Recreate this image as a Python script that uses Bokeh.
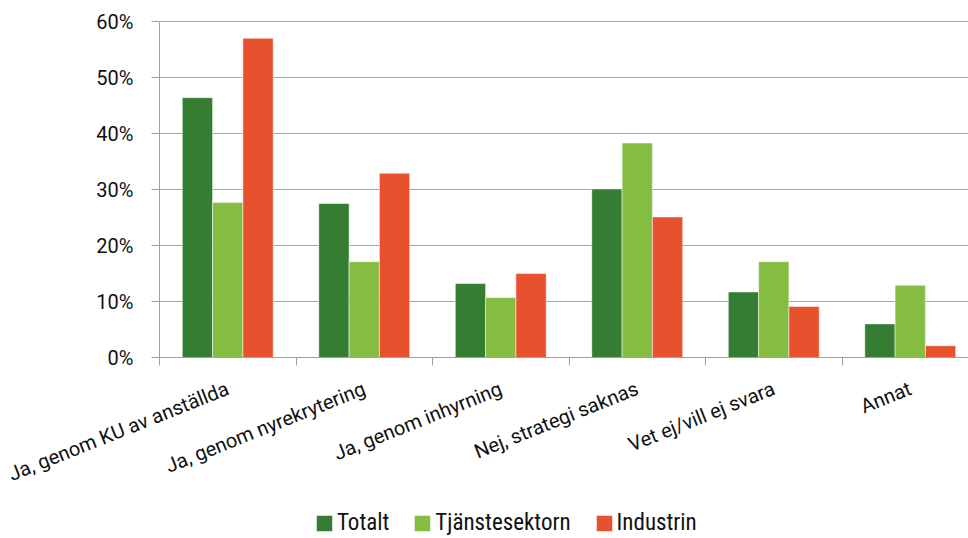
from bokeh.plotting import figure
from bokeh.models import (Range1d, FixedTicker, PrintfTickFormatter, Legend, LegendItem, LinearAxis)
from bokeh.embed import file_html
from bokeh.resources import INLINE

categories = ["Ja, genom KU av anställda", "Ja, genom nyrekrytering", "Ja, genom inhyrning",
              "Nej, strategi saknas", "Vet ej/vill ej svara", "Annat"]
totalt = [46.4, 27.5, 13.2, 30.1, 11.7, 6.0]
tjanst = [27.7, 17.1, 10.7, 38.3, 17.1, 12.9]
industrin = [57.0, 32.9, 15.0, 25.1, 9.1, 2.1]
series_names = ["Totalt", "Tjänstesektorn", "Industrin"]
colors = ["#357D32", "#84BD41", "#E8512D"]
y_ticks = [0, 10, 20, 30, 40, 50, 60]

FONT = "Roboto"
FS = "20px"
LEG_FONT = "'Liberation Sans Narrow', 'Roboto Condensed', Roboto"
W, H = 968, 538
cat_px = 136.5
left_px = 159
top_px = 21
zero_px = 357
px_per_unit = (zero_px - top_px) / 60.0
x_start = -left_px / cat_px
x_end = (W - left_px) / cat_px
y_end = 60 + top_px / px_per_unit
y_start = -(H - zero_px) / px_per_unit

p = figure(width=W, height=H, output_backend="svg", toolbar_location=None,
           x_range=Range1d(x_start, x_end), y_range=Range1d(y_start, y_end),
           min_border=0, x_axis_type=None, y_axis_type=None)
p.outline_line_color = None
p.background_fill_color = "white"
p.border_fill_color = "white"
p.xgrid.grid_line_color = None
p.ygrid.grid_line_color = None

n_cat = len(categories)
# horizontal gridlines, from the axis to the right edge
p.segment(x0=[0] * len(y_ticks), x1=[x_end] * len(y_ticks), y0=y_ticks, y1=y_ticks,
          line_color="#A6A6A6", line_width=1, level="underlay")

bw = 0.222
offsets = [-bw, 0, bw]
renderers = []
for vals, off, col in zip([totalt, tjanst, industrin], offsets, colors):
    xs = [i + 0.5 + off for i in range(n_cat)]
    r = p.vbar(x=xs, top=vals, width=bw, bottom=0, fill_color=col,
               line_color="white", line_alpha=0.5, line_width=1)
    renderers.append(r)

# y axis pinned at x = 0
yax = LinearAxis(ticker=FixedTicker(ticks=y_ticks), fixed_location=0, bounds=(0, 60))
yax.formatter = PrintfTickFormatter(format="%d%%")
yax.axis_line_color = "#A0A0A0"
yax.major_tick_line_color = "#A0A0A0"
yax.major_tick_out = 8
yax.major_tick_in = 0
yax.minor_tick_line_color = None
yax.major_label_standoff = 18
yax.major_label_text_font = FONT
yax.major_label_text_font_size = FS
yax.major_label_text_color = "#111111"
p.add_layout(yax, "left")

# x axis pinned at y = 0
centers = [i + 0.5 for i in range(n_cat)]
xax = LinearAxis(ticker=FixedTicker(ticks=centers, minor_ticks=list(range(n_cat + 1))),
                 fixed_location=0, bounds=(0, x_end))
xax.major_label_overrides = {c: lab for c, lab in zip(centers, categories)}
xax.axis_line_color = "#A0A0A0"
xax.major_tick_line_color = None
xax.major_tick_out = 0
xax.major_tick_in = 0
xax.minor_tick_line_color = "#A0A0A0"
xax.minor_tick_out = 8
xax.minor_tick_in = 0
xax.major_label_orientation = 0.38
xax.major_label_standoff = 22
xax.major_label_text_font = FONT
xax.major_label_text_font_size = FS
xax.major_label_text_color = "#111111"
p.add_layout(xax, "below")

legend = Legend(items=[LegendItem(label=n, renderers=[r]) for n, r in zip(series_names, renderers)],
                orientation="horizontal", location=(314, 2),
                glyph_width=20, glyph_height=20, label_height=20, label_standoff=3,
                spacing=23, padding=0, margin=0, border_line_color=None,
                background_fill_alpha=0,
                label_text_font=LEG_FONT, label_text_font_size="23px", label_text_color="#111111")
p.add_layout(legend, "center")

open("out.html", "w").write(file_html(p, INLINE))
